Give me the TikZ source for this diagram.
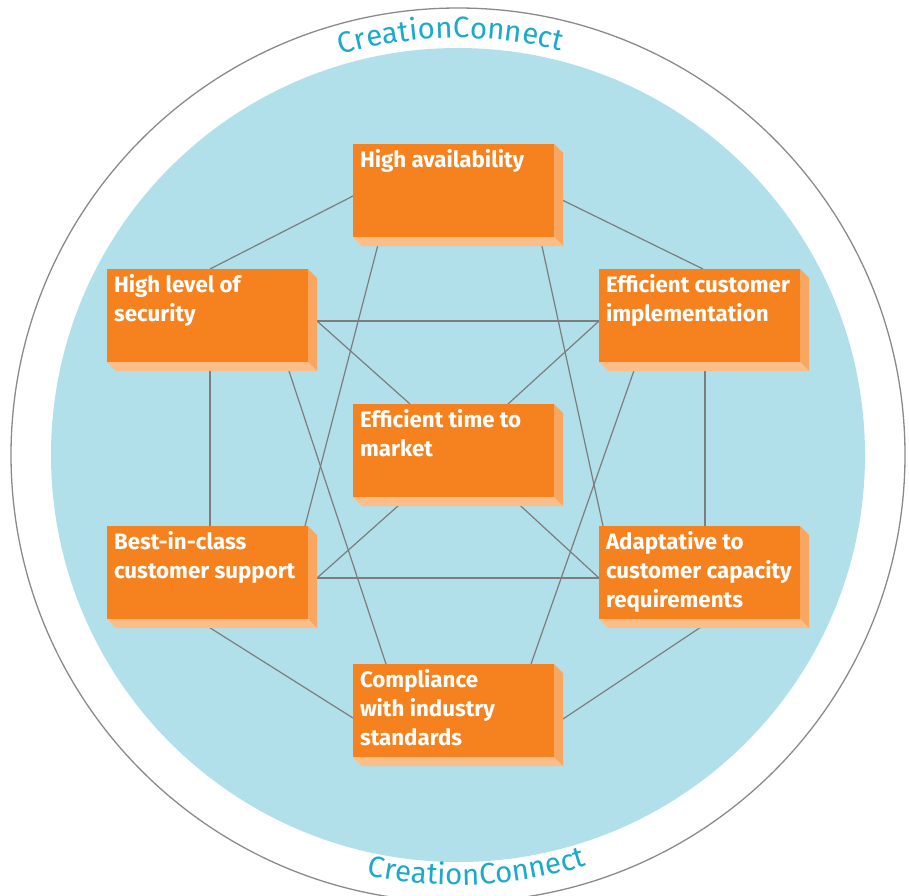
\documentclass[tikz,border=0pt]{standalone}
\usepackage{fontspec}
\setmainfont{Fira Sans}
\usetikzlibrary{calc,decorations.text}
\definecolor{boxfront}{HTML}{F5821F}
\definecolor{boxside}{HTML}{F9A660}
\definecolor{boxfloor}{HTML}{FCBE89}
\definecolor{ringblue}{HTML}{B1DFEA}
\definecolor{ringgray}{HTML}{8A8A8A}
\definecolor{brandcyan}{HTML}{1BA9CC}
\definecolor{linkgray}{HTML}{7D7D7D}
\pgfdeclarelayer{back}
\pgfdeclarelayer{links}
\pgfsetlayers{back,links,main}
\newcommand\boxtext[1]{\parbox[t][86pt][t]{187pt}{\raggedright\strut #1}}
\newcommand\brandfont{\fontsize{29.5}{32}\selectfont}
\tikzset{
  feature/.style={anchor=north west, fill=boxfront, text=white, outer sep=0pt,
    inner xsep=7pt, inner ysep=3.5pt, font=\bfseries\fontsize{22.3}{29}\selectfont},
  link/.style={draw=linkgray, line width=1.2pt},
  brand/.style={decorate, decoration={text along path, text={|\brandfont|CreationConnect},
    text align=center, text color=brandcyan}}
}
\begin{document}
\begin{tikzpicture}[x=1pt,y=-1pt]
\useasboundingbox (0,0) rectangle (909,895);
\coordinate (hub) at (458,455);
\begin{pgfonlayer}{back}
\draw[ringgray, line width=1.3pt] (hub) circle[radius=447pt];
\fill[ringblue] (hub) circle[radius=407pt];
\end{pgfonlayer}
\path[brand] (hub) ++(122:417pt) arc[start angle=122, end angle=60, radius=417pt];
\path[brand] (hub) ++(238:430pt) arc[start angle=238, end angle=307.2, radius=430pt];

\node[feature] (ha) at (353,144) {\boxtext{High availability}};
\node[feature] (hls) at (107,269) {\boxtext{High level of\\security}};
\node[feature] (eci) at (599,269) {\boxtext{Efficient customer\\implementation}};
\node[feature] (etm) at (353,404) {\boxtext{Efficient time to\\market}};
\node[feature] (bic) at (107,526) {\boxtext{Best-in-class\\customer support}};
\node[feature] (ada) at (599,526) {\boxtext{Adaptative to\\customer capacity\\requirements}};
\node[feature] (comp) at (353,664) {\boxtext{Compliance\\with industry\\standards}};

\begin{pgfonlayer}{links}
\draw[link] ($(ha.north west)+(0,52)$) -- ($(hls.north west)+(103,0)$);
\draw[link] ($(ha.north east)+(0,52)$) -- ($(eci.north west)+(104,0)$);
\draw[link] ($(ha.south west)+(27,0)$) -- ($(bic.north east)+(-3,0)$);
\draw[link] ($(ha.south east)+(-14,0)$) -- ($(ada.north west)+(4,0)$);
\draw[link] ($(hls.north east)+(0,52)$) -- ($(eci.north west)+(0,52)$);
\draw[link] ($(hls.north east)+(9,52)$) -- ($(etm.north west)+(57,0)$);
\draw[link] ($(hls.south west)+(103,0)$) -- ($(bic.north west)+(103,0)$);
\draw[link] ($(hls.south east)+(-22,0)$) -- ($(comp.north west)+(33,0)$);
\draw[link] ($(eci.north west)+(0,52)$) -- ($(etm.north west)+(155,0)$);
\draw[link] ($(eci.south west)+(106,0)$) -- ($(ada.north west)+(106,0)$);
\draw[link] ($(eci.south west)+(38,0)$) -- ($(comp.north west)+(178,0)$);
\draw[link] ($(etm.south west)+(55,0)$) -- ($(bic.north east)+(9,52)$);
\draw[link] ($(etm.south west)+(158,0)$) -- ($(ada.north west)+(0,52)$);
\draw[link] ($(bic.north east)+(0,52)$) -- ($(ada.north west)+(0,52)$);
\draw[link] ($(bic.south west)+(89,0)$) -- ($(comp.north west)+(0,54)$);
\draw[link] ($(ada.south west)+(114,0)$) -- ($(comp.north east)+(9,55)$);
\foreach \n in {ha,hls,eci,etm,bic,ada,comp}{
  \fill[boxside] (\n.north east) -- ++(9,9) -- ($(\n.south east)+(9,9)$) -- (\n.south east) -- cycle;
  \fill[boxfloor] (\n.south west) -- ++(9,9) -- ($(\n.south east)+(9,9)$) -- (\n.south east) -- cycle;
}
\end{pgfonlayer}
\end{tikzpicture}
\end{document}
